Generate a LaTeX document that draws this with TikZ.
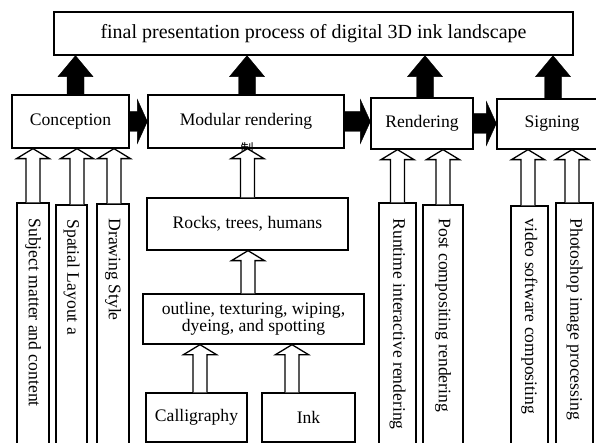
\documentclass[tikz,border=0pt]{standalone}
\usepackage{fontspec}
\setmainfont{Liberation Serif}
\newfontfamily\cjkfont{Noto Sans CJK SC}
\usetikzlibrary{calc}
\newcommand\boxat[6]{\node[box,txt,minimum width={#4-#2},minimum height={#5-#3}] (#1) at ({(#2+#4)/2},{(#3+#5)/2}) {#6};}
\newcommand\hollowup[2]{\draw[hollowarr] let \p1=#1, \p2=#2 in (\x1-7pt,\y1) -- (\x1-7pt,\y2-10pt) -- (\x1-16.5pt,\y2-10pt) -- (\x1,\y2) -- (\x1+16.5pt,\y2-10pt) -- (\x1+7pt,\y2-10pt) -- (\x1+7pt,\y1);}
\newcommand\blackup[2]{\fill[blackarr] let \p1=#1, \p2=#2 in (\x1-8.5pt,\y1) -- (\x1-8.5pt,\y2-21pt) -- (\x1-17.5pt,\y2-21pt) -- (\x1,\y2) -- (\x1+17.5pt,\y2-21pt) -- (\x1+8.5pt,\y2-21pt) -- (\x1+8.5pt,\y1) -- cycle;}
\newcommand\blackright[2]{\fill[blackarr] let \p1=#1, \p2=#2 in (\x1,\y1+10pt) -- (\x2-10pt,\y1+10pt) -- (\x2-10pt,\y1+22pt) -- (\x2,\y1) -- (\x2-10pt,\y1-22pt) -- (\x2-10pt,\y1-10pt) -- (\x1,\y1-10pt) -- cycle;}
\begin{document}
\begin{tikzpicture}[x=1pt,y=-1pt,
  box/.style={draw,line width=1.3pt,inner sep=0pt,fill=white},
  txt/.style={font=\fontsize{17.6}{17}\selectfont,inner sep=0pt,align=center},
  bigtxt/.style={font=\fontsize{20}{20}\selectfont},
  vtxt/.style={txt,rotate=-90,anchor=west},
  hollowarr/.style={draw,line width=1.3pt,fill=white,line join=miter},
  blackarr/.style={fill=black,draw=black,line width=0.4pt}]
\useasboundingbox (0,0) rectangle (596,443);
\clip (0,0) rectangle (596,443);
\fill[white] (0,0) rectangle (596,443);
% main boxes
\boxat{top}{54}{12}{573}{55}{\fontsize{20}{20}\selectfont final presentation process of digital 3D ink landscape}
\boxat{conc}{12}{95}{129}{148}{Conception}
\boxat{mod}{148}{95}{344}{148}{Modular rendering}
\boxat{rend}{371}{98}{473}{149}{Rendering}
\boxat{sign}{497}{99}{607}{149}{Signing}
\boxat{rocks}{147}{198}{348}{250}{Rocks, trees, humans}
\boxat{outl}{143}{294}{364}{344}{outline, texturing, wiping,\\ dyeing, and spotting}
\boxat{call}{146}{393}{247}{442}{Calligraphy}
\boxat{ink}{262}{393}{355}{442}{Ink}
% vertical boxes
\boxat{subj}{17}{203}{49}{470}{}
\boxat{spat}{56}{205}{87}{470}{}
\boxat{drw}{97}{204}{129}{470}{}
\boxat{runt}{379}{203}{416}{470}{}
\boxat{post}{423}{205}{463}{470}{}
\boxat{video}{511}{206}{548}{470}{}
\boxat{photo}{556}{203}{593}{470}{}
\node[vtxt] (subjT) at ($(subj.north)+(0,16)$) {Subject matter and content};
\node[vtxt] (spatT) at ($(spat.north)+(0,15)$) {Spatial Layout a};
\node[vtxt] (drwT) at ($(drw.north)+(0,15)$) {Drawing Style};
\node[vtxt] (runtT) at ($(runt.north)+(0,16)$) {Runtime interactive rendering};
\node[vtxt] (postT) at ($(post.north)+(0,14)$) {Post compositing rendering};
\node[vtxt] (videoT) at ($(video.north)+(0,13)$) {video software compositing};
\node[vtxt] (photoT) at ($(photo.north)+(0,16)$) {Photoshop image processing};
% stray character
\begin{scope}
\clip (228,141) rectangle (266,151.5);
\node[font=\cjkfont\fontsize{13}{13}\selectfont,inner sep=0pt] (zhi) at (247,149) {制};
\end{scope}
% black arrows up
\blackup{([xshift=5pt]conc.north)}{(top.south)}
\blackup{([xshift=1pt]mod.north)}{(top.south)}
\blackup{([xshift=3pt]rend.north)}{(top.south)}
\blackup{([xshift=1pt]sign.north)}{(top.south)}
% black arrows right
\blackright{(conc.east)}{(mod.west)}
\blackright{(mod.east)}{(rend.west)}
\blackright{(rend.east)}{(sign.west)}
% hollow arrows
\hollowup{(subj.north)}{(conc.south)}
\hollowup{([xshift=5.5pt]spat.north)}{(conc.south)}
\hollowup{([xshift=1pt]drw.north)}{(conc.south)}
\hollowup{(rocks.north)}{(mod.south)}
\hollowup{([xshift=-5.5pt]outl.north)}{(rocks.south)}
\hollowup{([xshift=3.5pt]call.north)}{(outl.south)}
\hollowup{([xshift=-16.5pt]ink.north)}{(outl.south)}
\hollowup{(runt.north)}{(rend.south)}
\hollowup{(post.north)}{(rend.south)}
\hollowup{([xshift=-1.5pt]video.north)}{(sign.south)}
\hollowup{([xshift=-2.5pt]photo.north)}{(sign.south)}
\end{tikzpicture}
\end{document}
